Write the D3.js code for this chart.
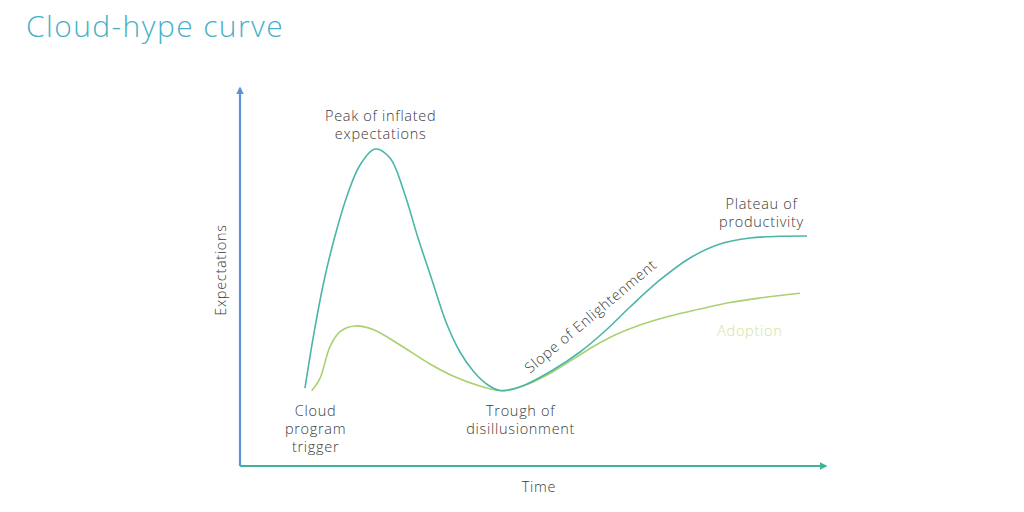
<!DOCTYPE html>
<html>
<head>
<meta charset="utf-8">
<script src="https://cdn.jsdelivr.net/npm/d3@7"></script>
<style>
  html, body { margin: 0; padding: 0; background: #fff; }
  svg { display: block; }
  text { font-family: "Open Sans", sans-serif; }
</style>
</head>
<body>
<svg id="chart" width="1024" height="512"></svg>
<script>
// ---- Data (time 0-100, expectations 0-100) ----
const hypeTime = [11.09, 12.63, 14.33, 16.21, 18.26, 20.48, 23.04, 25.60, 27.99, 30.38, 32.76, 35.15, 37.54, 39.93, 42.32, 44.37, 47.78, 53.41, 58.02, 62.29, 66.55, 71.67, 76.79, 81.91, 87.03, 92.15, 96.76];
const hypeExp  = [20.63, 35.19, 48.94, 60.85, 71.43, 79.63, 83.86, 81.48, 72.49, 60.32, 49.21, 38.10, 30.16, 24.87, 21.43, 19.97, 20.90, 25.40, 30.16, 35.71, 42.06, 49.21, 55.03, 58.73, 60.32, 60.77, 60.85];
const adoptTime = [12.24, 13.65, 15.36, 17.06, 19.62, 22.70, 27.30, 32.42, 36.35, 42.15, 44.88, 49.15, 53.41, 60.24, 63.99, 68.26, 73.38, 78.50, 83.62, 88.74, 95.56];
const adoptExp  = [19.92, 23.20, 31.56, 35.53, 37.04, 36.11, 32.01, 26.98, 23.81, 20.63, 19.92, 21.69, 24.95, 31.56, 34.66, 37.30, 39.68, 41.53, 43.25, 44.44, 45.69];

const phaseLabels = [
  { lines: ["Peak of inflated", "expectations"], t: 24.0, e: 91.2 },
  { lines: ["Plateau of", "productivity"], t: 89.0, e: 68.0 },
  { lines: ["Cloud", "program", "trigger"], t: 12.9, e: 13.3 },
  { lines: ["Trough of", "disillusionment"], t: 47.9, e: 13.3 }
];
const slopeLabel = { text: "Slope of Enlightenment", t: 60.4, e: 38.6, angle: -40 };
const seriesLabel = { text: "Adoption", t: 87.0, e: 34.4 };
const titleText = "Cloud-hype curve";
const xAxisTitle = "Time";
const yAxisTitle = "Expectations";

// ---- Layout ----
const svg = d3.select("#chart");
const x = d3.scaleLinear().domain([0, 100]).range([240, 826]);
const y = d3.scaleLinear().domain([0, 100]).range([466, 88]);

const hype = hypeTime.map((t, i) => [t, hypeExp[i]]);
const adopt = adoptTime.map((t, i) => [t, adoptExp[i]]);

const labelColor = "#3a3a3a";
const fs = 14.5, ls = 0.7;

// Title
svg.append("text")
  .attr("x", 26).attr("y", 37)
  .attr("fill", "#47b1c6")
  .attr("font-size", 30)
  .attr("font-weight", 300)
  .attr("letter-spacing", 1.4)
  .text(titleText);

// Arrow markers
const defs = svg.append("defs");
function marker(id, color) {
  defs.append("marker")
    .attr("id", id)
    .attr("viewBox", "0 0 10 10")
    .attr("refX", 8).attr("refY", 5)
    .attr("markerWidth", 3.5).attr("markerHeight", 3.5)
    .attr("orient", "auto")
    .append("path")
    .attr("d", "M0,0 L10,5 L0,10 z")
    .attr("fill", color);
}
marker("arrY", "#5b93d3");
marker("arrX", "#3fb49a");

// Axes
svg.append("line")
  .attr("x1", x(0)).attr("y1", y(0))
  .attr("x2", x(0)).attr("y2", y(100))
  .attr("stroke", "#5b93d3").attr("stroke-width", 2.2)
  .attr("marker-end", "url(#arrY)");
svg.append("line")
  .attr("x1", x(0)).attr("y1", y(0))
  .attr("x2", x(100)).attr("y2", y(0))
  .attr("stroke", "#3fb49a").attr("stroke-width", 2.2)
  .attr("marker-end", "url(#arrX)");

// Curves
const line = d3.line()
  .x(d => x(d[0])).y(d => y(d[1]))
  .curve(d3.curveCatmullRom.alpha(0.5));

svg.append("path").datum(adopt)
  .attr("d", line).attr("fill", "none")
  .attr("stroke", "#a9d16f").attr("stroke-width", 1.6);
svg.append("path").datum(hype)
  .attr("d", line).attr("fill", "none")
  .attr("stroke", "#4bb5a8").attr("stroke-width", 1.6);

// Phase labels
phaseLabels.forEach(lab => {
  const t = svg.append("text")
    .attr("text-anchor", "middle")
    .attr("fill", labelColor)
    .attr("font-size", fs)
    .attr("font-weight", 300)
    .attr("letter-spacing", ls);
  lab.lines.forEach((s, i) => {
    t.append("tspan")
      .attr("x", x(lab.t))
      .attr("y", y(lab.e) + i * 18)
      .text(s);
  });
});

svg.append("text")
  .attr("transform", `translate(${x(slopeLabel.t)},${y(slopeLabel.e)}) rotate(${slopeLabel.angle})`)
  .attr("text-anchor", "middle")
  .attr("fill", labelColor)
  .attr("font-size", fs)
  .attr("font-weight", 300)
  .attr("letter-spacing", ls)
  .text(slopeLabel.text);

svg.append("text")
  .attr("x", x(seriesLabel.t)).attr("y", y(seriesLabel.e))
  .attr("text-anchor", "middle")
  .attr("fill", "#d3e2a4")
  .attr("font-size", fs)
  .attr("font-weight", 300)
  .attr("letter-spacing", ls)
  .text(seriesLabel.text);

// Axis titles
svg.append("text")
  .attr("x", 539).attr("y", 492)
  .attr("text-anchor", "middle")
  .attr("fill", labelColor)
  .attr("font-size", fs)
  .attr("font-weight", 300)
  .attr("letter-spacing", ls)
  .text(xAxisTitle);
svg.append("text")
  .attr("transform", "translate(226,270) rotate(-90)")
  .attr("text-anchor", "middle")
  .attr("fill", labelColor)
  .attr("font-size", fs)
  .attr("font-weight", 300)
  .attr("letter-spacing", ls)
  .text(yAxisTitle);
</script>
</body>
</html>
